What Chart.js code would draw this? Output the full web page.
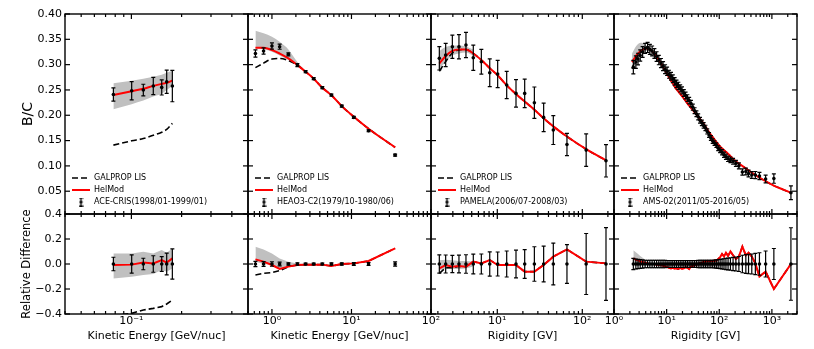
<!DOCTYPE html>
<html><head><meta charset="utf-8">
<script src="https://cdn.jsdelivr.net/npm/chart.js@4.4.1/dist/chart.umd.min.js"></script>
<style>
html,body{margin:0;padding:0;background:#fff;width:814px;height:349px;overflow:hidden}
#wrap{position:relative;width:814px;height:349px}
#wrap canvas{position:absolute;left:0;top:0}
</style></head><body><div id="wrap"></div>
<script>
// ---------------- DATA ----------------
// Panel 1: ACE-CRIS, kinetic energy [GeV/nuc]
const aceE        = [0.078, 0.1004, 0.1179, 0.1353, 0.152, 0.1628, 0.176];
const aceBC       = [0.241, 0.2485, 0.2498, 0.2577, 0.255, 0.2663, 0.2577];
const aceErr      = [0.013, 0.018, 0.0115, 0.017, 0.015, 0.023, 0.031];
const aceHelMod   = [0.240, 0.2475, 0.2525, 0.258, 0.262, 0.264, 0.2685];
const aceGalprop  = [0.141, 0.1495, 0.154, 0.1605, 0.1665, 0.172, 0.184];
const aceBandHi   = [0.263, 0.268, 0.272, 0.276, 0.280, 0.284, 0.288];
const aceBandLo   = [0.212, 0.222, 0.229, 0.237, 0.243, 0.250, 0.258];
const aceRelHelMod  = [-0.008, -0.005, 0.011, 0.005, 0.032, 0.011, 0.045];
const aceRelGalprop = [-0.415, -0.395, -0.368, -0.355, -0.341, -0.320, -0.288];
const aceRelBandHi  = [0.085, 0.085, 0.099, 0.085, 0.112, 0.091, 0.125];
const aceRelBandLo  = [-0.115, -0.101, -0.088, -0.080, -0.048, -0.061, -0.035];

// Panel 2: HEAO3-C2, kinetic energy [GeV/nuc]
const heaoE       = [0.62, 0.785, 1.0, 1.25, 1.61, 2.09, 2.65, 3.35, 4.3, 5.6, 7.55, 10.7, 16.4, 35.4];
const heaoBC      = [0.322, 0.3269, 0.3368, 0.3354, 0.3203, 0.2992, 0.286, 0.2722, 0.2544, 0.240, 0.2182, 0.1958, 0.1694, 0.1213];
const heaoErr     = [0.007, 0.006, 0.006, 0.005, 0.003, 0.003, 0.002, 0.002, 0.002, 0.002, 0.002, 0.002, 0.002, 0.002];
const heaoHelMod  = [0.3335, 0.3335, 0.329, 0.322, 0.3124, 0.299, 0.286, 0.2722, 0.2544, 0.2395, 0.218, 0.197, 0.1735, 0.1365];
const heaoGalprop = [0.294, 0.303, 0.311, 0.312, 0.308, 0.299, 0.286, 0.2722, 0.2544, 0.2395, 0.218, 0.197, 0.1735, 0.1365];
const heaoBandHi  = [0.367, 0.362, 0.355, 0.345, 0.330, 0.305, 0.287];
const heaoBandLo  = [0.332, 0.3305, 0.3255, 0.318, 0.309, 0.298, 0.285];
const heaoRelHelMod  = [0.037, 0.019, -0.008, -0.040, -0.021, -0.008, -0.005, -0.005, -0.005, -0.016, 0.0, 0.005, 0.024, 0.125];
const heaoRelGalprop = [-0.088, -0.075, -0.069, -0.053, -0.021, -0.008, -0.005, -0.005, -0.005, -0.016, 0.0, 0.005, 0.024, 0.125];
const heaoRelBandHi  = [0.139, 0.117, 0.085, 0.045, 0.019, 0.005, 0.0];
const heaoRelBandLo  = [0.019, 0.0, -0.008, -0.035, -0.021, -0.008, -0.005];

// Panel 3: PAMELA, rigidity [GV]
const pamR        = [2.08, 2.47, 2.96, 3.54, 4.28, 5.22, 6.49, 8.15, 10.1, 12.9, 16.6, 21.0, 27.3, 35.1, 45.6, 66.0, 111, 190];
const pamBC       = [0.3124, 0.319, 0.3354, 0.3354, 0.3387, 0.3137, 0.3058, 0.284, 0.2814, 0.2597, 0.2432, 0.2432, 0.2248, 0.1958, 0.1708, 0.1424, 0.1312, 0.1101];
const pamErr      = [0.023, 0.023, 0.023, 0.024, 0.025, 0.025, 0.0245, 0.0275, 0.027, 0.027, 0.027, 0.028, 0.031, 0.028, 0.0285, 0.022, 0.032, 0.032];
const pamHelMod   = [0.302, 0.317, 0.327, 0.330, 0.330, 0.322, 0.309, 0.293, 0.279, 0.259, 0.242, 0.227, 0.211, 0.194, 0.178, 0.158, 0.133, 0.111];
const pamGalprop  = [0.287, 0.306, 0.323, 0.329, 0.330, 0.322, 0.309, 0.293, 0.279, 0.259, 0.242, 0.227, 0.211, 0.194, 0.178, 0.158, 0.133, 0.111];
const pamBandHi   = [0.327, 0.335, 0.338, 0.338, 0.336, 0.330];
const pamBandLo   = [0.292, 0.305, 0.318, 0.322, 0.324, 0.318];
const pamRelHelMod  = [-0.035, -0.008, -0.021, -0.016, -0.021, 0.019, 0.005, 0.032, -0.008, -0.008, -0.008, -0.061, -0.061, -0.008, 0.059, 0.117, 0.019, 0.005];
const pamRelGalprop = [-0.075, -0.030, -0.030, -0.018, -0.021, 0.019, 0.005, 0.032, -0.008, -0.008, -0.008, -0.061, -0.061, -0.008, 0.059, 0.117, 0.019, 0.005];
const pamRelBandHi  = [0.030, 0.035, 0.030, 0.025, 0.025, 0.020];
const pamRelBandLo  = [-0.050, -0.040, -0.040, -0.040, -0.035, -0.020];

// Panel 4: AMS-02, rigidity [GV]
const amsR = [2.33, 2.6, 2.86, 3.15, 3.5, 3.9, 4.35, 4.8, 5.3, 5.85, 6.45, 7.1, 7.8, 8.55, 9.35, 10.2, 11.1, 12.1, 13.1, 14.2,
  15.4, 16.7, 18.1, 19.6, 21.2, 22.9, 24.8, 26.8, 29.0, 31.4, 34.0, 36.8, 39.8, 43.1, 46.7, 50.5, 54.6, 59.1, 64, 69.3,
  75, 81.3, 88, 95.5, 104, 113, 123, 134, 147, 163, 183, 207, 236, 275, 320, 360, 415, 485, 580, 760, 1090, 2300];
const amsBC = [0.295, 0.305, 0.311, 0.318, 0.325, 0.332, 0.334, 0.330, 0.327, 0.322, 0.316, 0.309, 0.303, 0.297, 0.291, 0.287, 0.281, 0.277, 0.272, 0.267,
  0.262, 0.258, 0.253, 0.249, 0.244, 0.239, 0.234, 0.229, 0.223, 0.216, 0.209, 0.203, 0.197, 0.190, 0.185, 0.180, 0.175, 0.168, 0.161, 0.155,
  0.149, 0.145, 0.141, 0.135, 0.131, 0.127, 0.122, 0.118, 0.114, 0.112, 0.109, 0.105, 0.100, 0.088, 0.089, 0.085, 0.082, 0.082, 0.080, 0.074, 0.075, 0.047];
const amsRelErr = [0.045, 0.040, 0.037, 0.035, 0.033, 0.03, 0.03, 0.03, 0.03, 0.03, 0.03, 0.03, 0.03, 0.03, 0.03, 0.028, 0.028, 0.028, 0.028, 0.028,
  0.028, 0.028, 0.028, 0.028, 0.028, 0.028, 0.028, 0.028, 0.028, 0.028, 0.028, 0.028, 0.03, 0.03, 0.03, 0.03, 0.03, 0.03, 0.03, 0.03,
  0.03, 0.032, 0.033, 0.035, 0.037, 0.040, 0.042, 0.045, 0.047, 0.050, 0.053, 0.056, 0.060, 0.070, 0.075, 0.078, 0.080, 0.085, 0.090, 0.104, 0.124, 0.290];
const amsRelHelMod = [0.045, 0.035, 0.03, 0.02, 0.015, 0.01, 0.005, 0.0, 0.0, 0.0, -0.005, -0.005, -0.01, -0.012, -0.02, -0.025, -0.03, -0.035, -0.03, -0.038,
  -0.035, -0.04, -0.03, -0.04, -0.035, -0.025, -0.03, -0.04, -0.02, -0.015, -0.01, -0.005, 0.0, 0.01, 0.005, 0.02, 0.015, 0.025, 0.02, 0.025,
  0.02, 0.03, 0.025, 0.04, 0.055, 0.08, 0.06, 0.09, 0.065, 0.10, 0.07, 0.04, 0.06, 0.14, 0.07, 0.09, 0.06, 0.005, -0.10, -0.06, -0.20, 0.0];
const amsModelR  = [2.2, 2.5, 2.8, 3.2, 3.6, 4.0, 4.5, 5.0, 6.0, 7.0, 8.0, 10, 12, 15, 20, 25, 30, 40, 50, 60, 80, 100, 150, 200, 300, 500, 1000, 2300];
const amsHelMod  = [0.305, 0.314, 0.321, 0.327, 0.330, 0.332, 0.332, 0.329, 0.320, 0.310, 0.301, 0.283, 0.269, 0.253, 0.237, 0.223, 0.213, 0.197, 0.184, 0.171, 0.153, 0.140, 0.123, 0.110, 0.097, 0.081, 0.063, 0.047];
const amsGalprop = [0.292, 0.306, 0.317, 0.325, 0.329, 0.332, 0.332, 0.329, 0.320, 0.310, 0.301, 0.283, 0.269, 0.253, 0.237, 0.223, 0.213, 0.197, 0.184, 0.171, 0.153, 0.140, 0.123, 0.110, 0.097, 0.081, 0.063, 0.047];
const amsBandR   = [2.2, 2.5, 2.8, 3.2, 3.6, 4.0, 4.5, 5.0];
const amsBandHi  = [0.322, 0.333, 0.340, 0.343, 0.342, 0.338, 0.333, 0.327];
const amsBandLo  = [0.303, 0.311, 0.318, 0.323, 0.326, 0.327, 0.326, 0.325];
const amsRelBandHi = [0.110, 0.095, 0.080, 0.065, 0.050, 0.035, 0.020, 0.005];
const amsRelBandLo = [-0.010, -0.010, -0.010, -0.008, -0.006, -0.005, -0.003, 0.0];

// Labels / ticks
const dataLabels  = ['ACE-CRIS(1998/01-1999/01)', 'HEAO3-C2(1979/10-1980/06)', 'PAMELA(2006/07-2008/03)', 'AMS-02(2011/05-2016/05)'];
const modelLabels = ['GALPROP LIS', 'HelMod'];
const xTitles     = ['Kinetic Energy [GeV/nuc]', 'Kinetic Energy [GeV/nuc]', 'Rigidity [GV]', 'Rigidity [GV]'];
const yTitles     = ['B/C', 'Relative Difference'];
const xRanges     = [[0.04, 0.5], [0.5, 100], [1.66, 236], [1, 3000]];
const topYTickValues = [0.05, 0.10, 0.15, 0.20, 0.25, 0.30, 0.35, 0.40];
const topYTickLabels = ['0.05', '0.10', '0.15', '0.20', '0.25', '0.30', '0.35', '0.40'];
const botYTickValues = [-0.4, -0.2, 0.0, 0.2, 0.4];
const botYTickLabels = ['\u22120.4', '\u22120.2', '0.0', '0.2', '0.4'];
const decadeExps   = [-1, 0, 1, 2, 3];
const decadeLabels = ['10\u207B\u00B9', '10\u2070', '10\u00B9', '10\u00B2', '10\u00B3'];

// ---------------- SETUP ----------------
const W = 814, H = 349;
const PANEL_X = [[65, 248], [248, 431], [431, 614], [614, 797]];
const ROWS = [[14, 214], [214, 314]];
const GRAY = '#c0c0c0';
Chart.defaults.font.family = "'DejaVu Sans', sans-serif";
Chart.defaults.font.size = 11;
Chart.defaults.color = '#000';

const panels = [
  {x: aceE, y: aceBC, err: aceErr, mx: aceE, helmod: aceHelMod, galprop: aceGalprop, bx: aceE, bandHi: aceBandHi, bandLo: aceBandLo,
   rx: aceE, relHelmod: aceRelHelMod, relGalprop: aceRelGalprop, rbx: aceE, relBandHi: aceRelBandHi, relBandLo: aceRelBandLo},
  {x: heaoE, y: heaoBC, err: heaoErr, mx: heaoE, helmod: heaoHelMod, galprop: heaoGalprop, bx: heaoE, bandHi: heaoBandHi, bandLo: heaoBandLo,
   rx: heaoE, relHelmod: heaoRelHelMod, relGalprop: heaoRelGalprop, rbx: heaoE, relBandHi: heaoRelBandHi, relBandLo: heaoRelBandLo},
  {x: pamR, y: pamBC, err: pamErr, mx: pamR, helmod: pamHelMod, galprop: pamGalprop, bx: pamR, bandHi: pamBandHi, bandLo: pamBandLo,
   rx: pamR, relHelmod: pamRelHelMod, relGalprop: pamRelGalprop, rbx: pamR, relBandHi: pamRelBandHi, relBandLo: pamRelBandLo},
  {x: amsR, y: amsBC, err: amsBC.map((v, i) => v * amsRelErr[i]), mx: amsModelR, helmod: amsHelMod, galprop: amsGalprop, bx: amsBandR, bandHi: amsBandHi, bandLo: amsBandLo,
   rx: amsR, relHelmod: amsRelHelMod, relGalprop: amsRelHelMod, rbx: amsR, relBandHi: amsRelBandHi, relBandLo: amsRelBandLo, relErr: amsRelErr}
];
panels.forEach(p => { if (!p.relErr) p.relErr = p.err.map((e, i) => e / p.y[i]); });

function pts(xs, ys) { return ys.map((y, i) => ({x: xs[i], y})); }
function isDecade(v) { const l = Math.log10(v); return Math.abs(l - Math.round(l)) < 1e-7; }
function logTicks(min, max) {
  const out = [];
  for (let e = Math.floor(Math.log10(min)); e <= Math.ceil(Math.log10(max)); e++) {
    for (let m = 1; m <= 9; m++) {
      const v = m * Math.pow(10, e);
      if (v >= min * (1 - 1e-9) && v <= max * (1 + 1e-9)) out.push({value: v, major: m === 1});
    }
  }
  return out;
}

// legend marker: error bar with dot
const errGlyph = document.createElement('canvas');
errGlyph.width = 5; errGlyph.height = 9;
(function () {
  const g = errGlyph.getContext('2d');
  g.strokeStyle = '#000'; g.lineWidth = 1.2;
  g.beginPath(); g.moveTo(2.5, 0.5); g.lineTo(2.5, 8.5);
  g.moveTo(0.5, 0.6); g.lineTo(4.5, 0.6); g.moveTo(0.5, 8.4); g.lineTo(4.5, 8.4); g.stroke();
  g.fillStyle = '#000'; g.beginPath(); g.arc(2.5, 4.5, 1.6, 0, 2 * Math.PI); g.fill();
})();

// ---------------- PLUGINS ----------------
const errorBarPlugin = {
  id: 'errbars',
  afterDatasetDraw(chart, args) {
    const ds = chart.data.datasets[args.index];
    if (!ds.errorBars) return;
    const xs = chart.scales.x, ys = chart.scales.y, ctx = chart.ctx, a = chart.chartArea;
    ctx.save();
    ctx.beginPath(); ctx.rect(a.left, a.top, a.right - a.left, a.bottom - a.top); ctx.clip();
    ctx.strokeStyle = '#000'; ctx.lineWidth = 1.2;
    ds.data.forEach((p, i) => {
      const e = ds.errorBars[i];
      const x = xs.getPixelForValue(p.x);
      const y1 = ys.getPixelForValue(p.y - e), y2 = ys.getPixelForValue(p.y + e);
      ctx.beginPath();
      ctx.moveTo(x, y1); ctx.lineTo(x, y2);
      ctx.moveTo(x - 2, y1); ctx.lineTo(x + 2, y1);
      ctx.moveTo(x - 2, y2); ctx.lineTo(x + 2, y2);
      ctx.stroke();
    });
    ctx.restore();
  }
};

const framePlugin = {
  id: 'frameTicks',
  afterDraw(chart) {
    const {ctx, chartArea: a, scales} = chart;
    const xs = scales.x, ys = scales.y;
    ctx.save();
    ctx.strokeStyle = '#000'; ctx.lineWidth = 1.2;
    const seg = (x1, y1, x2, y2) => { ctx.beginPath(); ctx.moveTo(x1, y1); ctx.lineTo(x2, y2); ctx.stroke(); };
    xs.ticks.forEach(t => {
      const px = xs.getPixelForValue(t.value);
      if (px < a.left - 0.5 || px > a.right + 0.5) return;
      const len = t.major ? 5 : 3;
      seg(px, a.bottom, px, a.bottom - len);
      seg(px, a.top, px, a.top + len);
    });
    ys.ticks.forEach(t => {
      const py = ys.getPixelForValue(t.value);
      seg(a.left, py, a.left + 5, py);
      seg(a.right, py, a.right - 5, py);
    });
    ctx.lineWidth = 1.4;
    ctx.strokeRect(a.left, a.top, a.right - a.left, a.bottom - a.top);
    ctx.restore();
  }
};

const legendMover = {
  id: 'legendMover',
  afterLayout(chart) {
    const lg = chart.legend;
    if (!lg || !lg.options.display) return;
    const a = chart.chartArea;
    lg.left = a.left + 3; lg.top = a.bottom - 44;
    lg.width = 170; lg.height = 48;
    lg.right = lg.left + lg.width; lg.bottom = lg.top + lg.height;
  }
};

// ---------------- CHARTS ----------------
const wrap = document.getElementById('wrap');

function buildChart(col, row) {
  const p = panels[col];
  const [L, R] = PANEL_X[col];
  const [T, B] = ROWS[row];
  const top = row === 0;
  const showY = col === 0, showX = row === 1;
  const yW = 65, xH = 35;
  const [xmin, xmax] = xRanges[col];
  const yVals = top ? topYTickValues : botYTickValues;
  const yLabs = top ? topYTickLabels : botYTickLabels;

  const cv = document.createElement('canvas');
  cv.width = W; cv.height = H; cv.style.width = W + 'px'; cv.style.height = H + 'px';
  wrap.appendChild(cv);

  const curve = top ? 'monotone' : 'default';
  const datasets = [
    {label: 'band-hi', data: pts(top ? p.bx : p.rbx, top ? p.bandHi : p.relBandHi),
     borderColor: 'rgba(0,0,0,0)', borderWidth: 0, pointRadius: 0, fill: false, tension: 0, cubicInterpolationMode: curve, order: 5},
    {label: 'band-lo', data: pts(top ? p.bx : p.rbx, top ? p.bandLo : p.relBandLo),
     borderColor: 'rgba(0,0,0,0)', borderWidth: 0, pointRadius: 0, fill: '-1', backgroundColor: GRAY, tension: 0, cubicInterpolationMode: curve, order: 4},
    {label: modelLabels[0], data: pts(top ? p.mx : p.rx, top ? p.galprop : p.relGalprop),
     borderColor: '#000', borderWidth: 1.6, borderDash: [6, 3], pointRadius: 0, fill: false, tension: 0, cubicInterpolationMode: curve, order: 2},
    {label: modelLabels[1], data: pts(top ? p.mx : p.rx, top ? p.helmod : p.relHelmod),
     borderColor: '#ff0000', borderWidth: 2, pointRadius: 0, fill: false, tension: 0, cubicInterpolationMode: curve, order: 1},
    {label: dataLabels[col], data: pts(p.x, top ? p.y : p.x.map(() => 0)),
     showLine: false, pointRadius: 1.8, pointBackgroundColor: '#000', pointBorderColor: '#000', pointBorderWidth: 0,
     errorBars: top ? p.err : p.relErr, order: 0}
  ];

  new Chart(cv, {
    type: 'line',
    data: {datasets},
    plugins: [errorBarPlugin, framePlugin, legendMover],
    options: {
      responsive: false, maintainAspectRatio: false, animation: false, devicePixelRatio: 1, events: [],
      layout: {padding: {left: showY ? L - yW : L, right: W - R, top: T, bottom: showX ? H - B - xH : H - B}},
      plugins: {
        tooltip: {enabled: false},
        legend: {
          display: top, position: 'chartArea', align: 'start',
          labels: {
            usePointStyle: true, pointStyleWidth: 18, boxHeight: 8, padding: 4, color: '#000',
            font: {size: 8},
            generateLabels: () => [
              {text: modelLabels[0], pointStyle: 'line', strokeStyle: '#000', fillStyle: '#000', lineWidth: 1.6, lineDash: [6, 3], fontColor: '#000', hidden: false, datasetIndex: 2},
              {text: modelLabels[1], pointStyle: 'line', strokeStyle: '#ff0000', fillStyle: '#ff0000', lineWidth: 2, fontColor: '#000', hidden: false, datasetIndex: 3},
              {text: dataLabels[col], pointStyle: errGlyph, strokeStyle: '#000', fillStyle: '#000', lineWidth: 1, fontColor: '#000', hidden: false, datasetIndex: 4}
            ]
          }
        }
      },
      scales: {
        x: {
          type: 'logarithmic', min: xmin, max: xmax, display: showX,
          grid: {display: false, drawTicks: false}, border: {display: false},
          afterBuildTicks: s => { s.ticks = logTicks(xmin, xmax); },
          afterFit: s => { if (showX) s.height = xH; },
          ticks: {
            autoSkip: false, maxRotation: 0, minRotation: 0, padding: 1, color: '#000', font: {size: 11},
            callback: v => {
              if (!isDecade(v)) return '';
              const k = decadeExps.indexOf(Math.round(Math.log10(v)));
              return k >= 0 ? decadeLabels[k] : '';
            }
          },
          title: {display: showX, text: xTitles[col], color: '#000', font: {size: 11}, padding: {top: 0, bottom: 6.4}}
        },
        y: {
          type: 'linear', min: top ? 0.005 : -0.4, max: top ? 0.40 : 0.4, display: showY,
          grid: {display: false, drawTicks: false}, border: {display: false},
          afterBuildTicks: s => { s.ticks = yVals.map(v => ({value: v})); },
          afterFit: s => { if (showY) s.width = yW; },
          ticks: {
            autoSkip: false, padding: 3, color: '#000', font: {size: 11},
            callback: v => { const i = yVals.findIndex(t => Math.abs(t - v) < 1e-9); return i >= 0 ? yLabs[i] : ''; }
          },
          title: {display: showY, text: yTitles[row], color: '#000',
                  font: {size: top ? 14 : 11.5}, padding: {top: top ? 19.9 : 20.6, bottom: 0}}
        }
      }
    }
  });
}

for (let row = 0; row < 2; row++) for (let col = 0; col < 4; col++) buildChart(col, row);
</script>
</body></html>
